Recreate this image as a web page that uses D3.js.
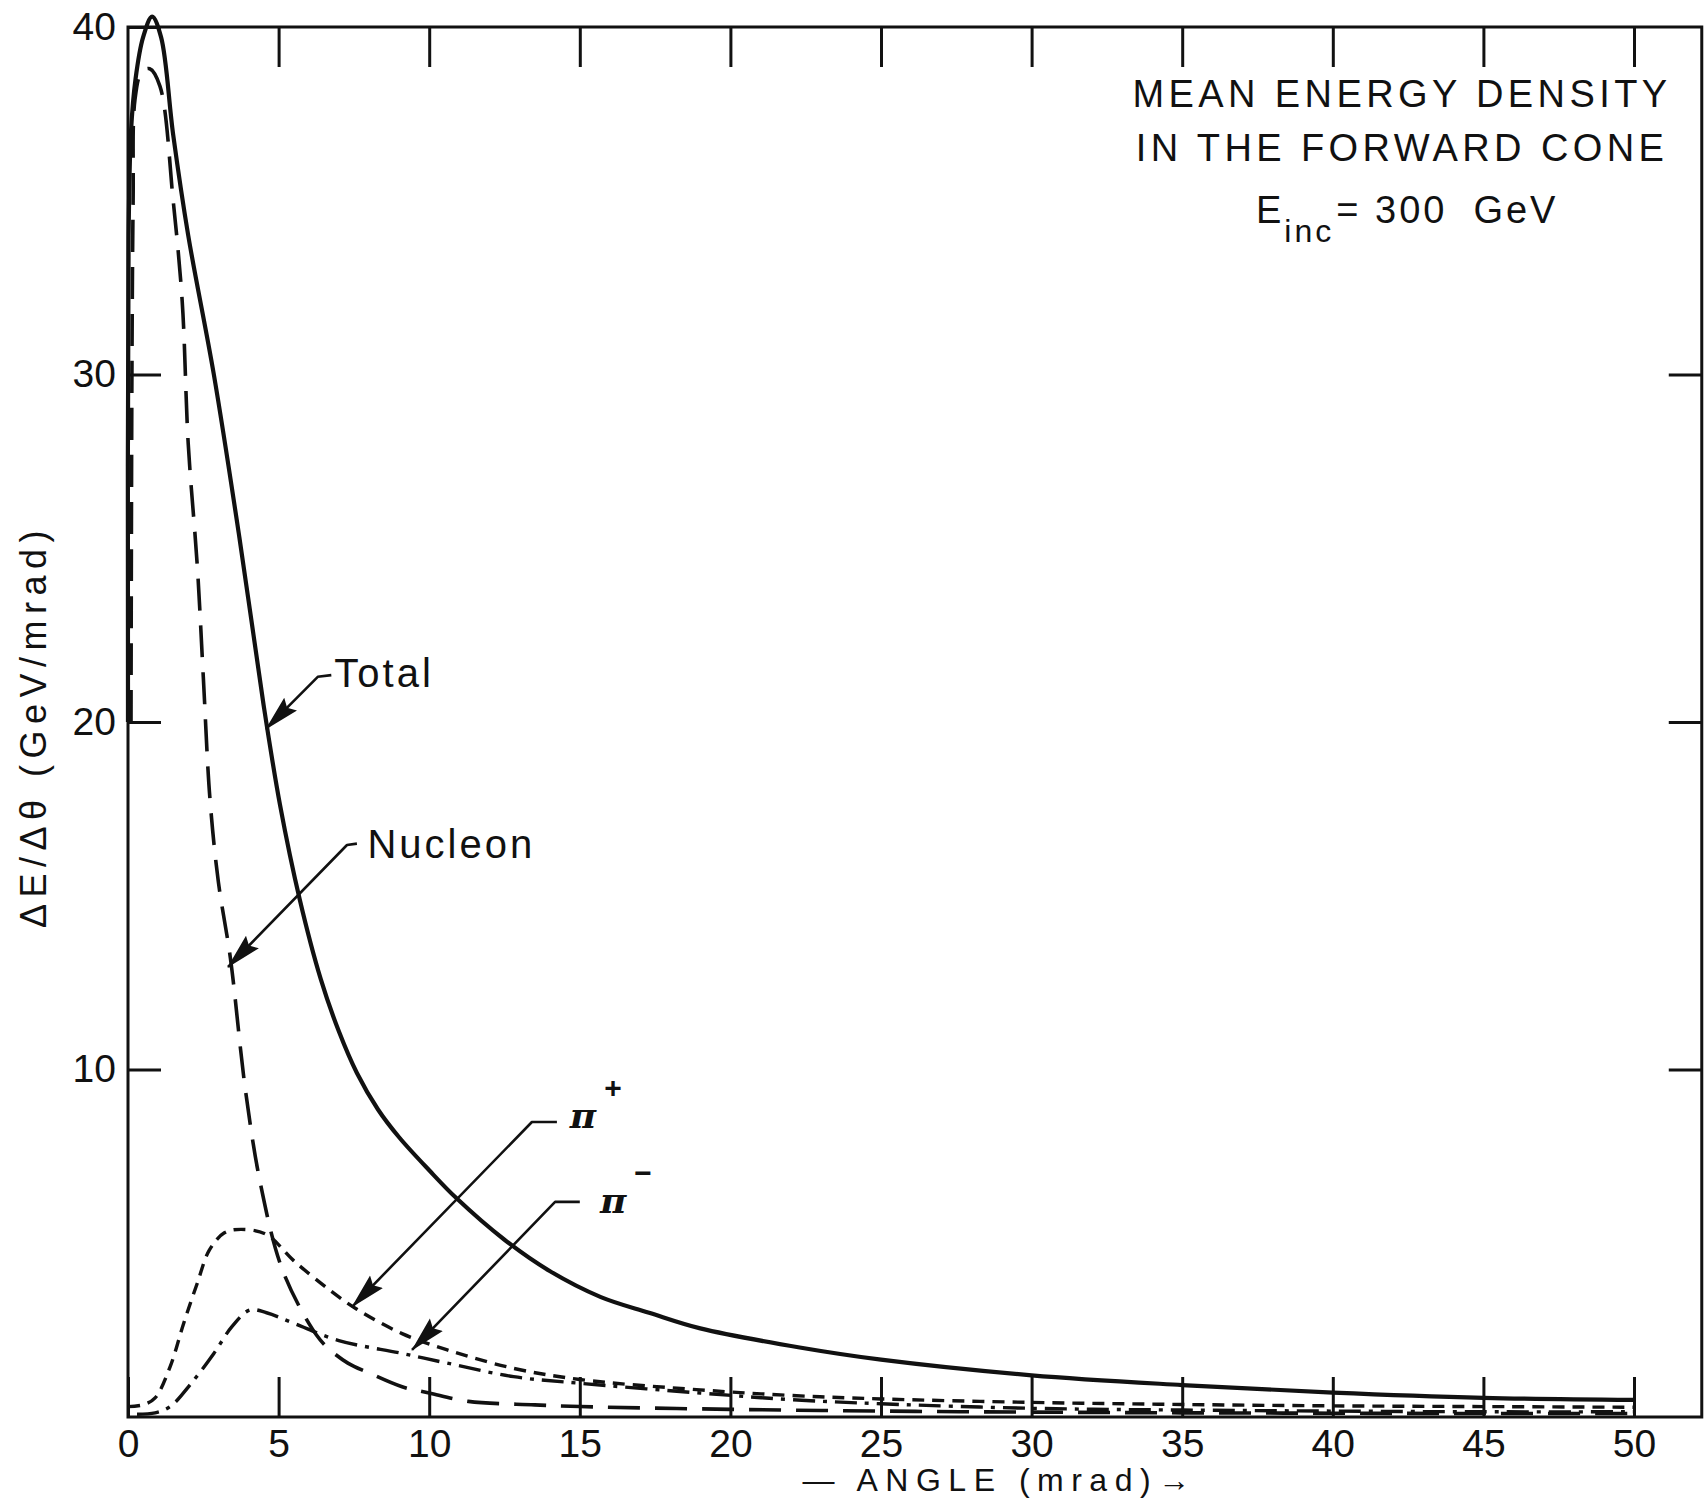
<!DOCTYPE html>
<html>
<head>
<meta charset="utf-8">
<script src="https://cdn.jsdelivr.net/npm/d3@7"></script>
<style>
  html, body { margin: 0; padding: 0; background: #fff; }
  svg { display: block; }
  text { font-family: 'Liberation Sans', Arial, sans-serif; fill: #111; }
</style>
</head>
<body>
<div id="chart"></div>
<script>
// values (angle in mrad, dE/dtheta in GeV/mrad)
const totalAngle = [0, 0.02, 0.1, 0.25, 0.5, 0.8, 1.1, 1.5, 2.0, 2.85, 3.7, 4.5, 5.05, 5.7, 6.4, 7.0, 7.6, 8.3, 9.0, 10.0, 10.9, 12.5, 14.0, 15.7, 17.3, 19.0, 22.3, 25, 30, 35, 40, 45, 50];
const totalValue = [20, 34, 37, 38.5, 39.7, 40.3, 39.7, 36.9, 34.0, 30.0, 25.3, 20.5, 17.6, 14.9, 12.6, 11.1, 9.9, 8.85, 8.05, 7.1, 6.3, 5.1, 4.2, 3.45, 3.0, 2.55, 2.0, 1.65, 1.2, 0.92, 0.7, 0.55, 0.49];

const nucleonAngle = [0.1, 0.13, 0.17, 0.23, 0.45, 0.72, 1.06, 1.5, 1.8, 2.0, 2.3, 2.5, 2.72, 3.0, 3.4, 3.9, 4.4, 5.1, 6.0, 6.5, 7.3, 8.0, 9.1, 10, 11.3, 13.5, 15, 20, 25, 30, 35, 40, 45, 50];
const nucleonValue = [20, 30, 35, 37.9, 38.7, 38.8, 38.3, 35, 32.1, 28, 24.5, 21.3, 17.8, 15.4, 13.2, 9.4, 6.7, 4.3, 2.7, 2.1, 1.55, 1.27, 0.87, 0.69, 0.45, 0.35, 0.3, 0.22, 0.17, 0.14, 0.12, 0.11, 0.1, 0.1];

const piPlusAngle = [0, 0.5, 0.9, 1.4, 1.85, 2.3, 2.7, 3.2, 3.75, 4.6, 5.5, 6.7, 7.6, 9.1, 10.6, 12.8, 15, 19, 22, 25, 30, 35, 40, 45, 50];
const piPlusValue = [0.3, 0.35, 0.55, 1.45, 2.7, 3.85, 4.8, 5.3, 5.4, 5.25, 4.5, 3.65, 3.1, 2.4, 1.93, 1.4, 1.08, 0.78, 0.62, 0.52, 0.42, 0.36, 0.32, 0.3, 0.28];

const piMinusAngle = [0.3, 0.9, 1.4, 2.1, 2.85, 3.45, 4.05, 4.6, 5.5, 7.0, 9.1, 10.6, 12.8, 15, 19, 22, 25, 30, 35, 40, 45, 50];
const piMinusValue = [0.08, 0.12, 0.3, 0.97, 1.83, 2.6, 3.08, 3.0, 2.7, 2.2, 1.83, 1.55, 1.16, 0.97, 0.69, 0.5, 0.38, 0.25, 0.2, 0.17, 0.15, 0.15];

const xTicks = [0, 5, 10, 15, 20, 25, 30, 35, 40, 45, 50];
const yTicks = [10, 20, 30, 40];

const titleLines = ['MEAN ENERGY DENSITY', 'IN THE FORWARD CONE'];

// curve labels: arrow tip on the curve, elbow of the leader, label start (data units)
const labels = [
  { text: 'Total', tip: [4.58, 19.8], elbow: [6.3, 21.3], end: [6.75, 21.35], at: [6.85, 21.0], sup: null },
  { text: 'Nucleon', tip: [3.32, 12.95], elbow: [7.27, 16.46], end: [7.6, 16.5], at: [7.95, 16.1], sup: null },
  { text: 'π', tip: [7.44, 3.17], elbow: [13.41, 8.49], end: [14.24, 8.49], at: [14.67, 8.32], sup: '+' },
  { text: 'π', tip: [9.43, 1.93], elbow: [14.18, 6.19], end: [15.0, 6.19], at: [15.67, 5.87], sup: '−' }
];

const W = 1705, H = 1499;
const x = d3.scaleLinear().domain([0, 50]).range([128, 1634]);
const y = d3.scaleLinear().domain([0, 40]).range([1417, 27]);
const frameRight = x(52.25);

const svg = d3.select('#chart').append('svg')
  .attr('width', W).attr('height', H)
  .attr('viewBox', `0 0 ${W} ${H}`);

svg.append('rect').attr('width', W).attr('height', H).attr('fill', '#fff');

const defs = svg.append('defs');
defs.append('marker')
  .attr('id', 'head')
  .attr('markerUnits', 'userSpaceOnUse')
  .attr('viewBox', '0 0 36 20')
  .attr('refX', 35).attr('refY', 10)
  .attr('markerWidth', 36).attr('markerHeight', 20)
  .attr('orient', 'auto')
  .append('path')
  .attr('d', 'M0,1 L36,10 L0,19 L5,10 Z')
  .attr('fill', '#111');

// frame
svg.append('rect')
  .attr('x', x(0)).attr('y', y(40))
  .attr('width', frameRight - x(0)).attr('height', y(0) - y(40))
  .attr('fill', 'none').attr('stroke', '#111').attr('stroke-width', 3);

// axes (ticks point inward, as on the original)
const styleAxis = (g) => {
  g.select('.domain').remove();
  g.selectAll('.tick line').attr('stroke', '#111').attr('stroke-width', 3);
  g.selectAll('.tick text')
    .attr('fill', '#111')
    .style('font-family', "'Liberation Sans', Arial, sans-serif")
    .style('font-size', '39px');
};

svg.append('g')
  .attr('transform', `translate(0,${y(0)})`)
  .call(d3.axisBottom(x).tickValues(xTicks).tickSize(-40).tickSizeOuter(0).tickPadding(12).tickFormat(d3.format('d')))
  .call(styleAxis);

svg.append('g')
  .attr('transform', `translate(0,${y(40)})`)
  .call(d3.axisTop(x).tickValues(xTicks.slice(1)).tickSize(-40).tickSizeOuter(0).tickFormat(''))
  .call(styleAxis);

svg.append('g')
  .attr('transform', `translate(${x(0)},0)`)
  .call(d3.axisLeft(y).tickValues(yTicks).tickSize(-33).tickSizeOuter(0).tickPadding(12).tickFormat(d3.format('d')))
  .call(styleAxis);

svg.append('g')
  .attr('transform', `translate(${frameRight},0)`)
  .call(d3.axisLeft(y).tickValues(yTicks.slice(0, 3)).tickSize(33).tickSizeOuter(0).tickFormat(''))
  .call(styleAxis);

// curves
const line = d3.line()
  .x((d) => x(d[0]))
  .y((d) => y(d[1]))
  .curve(d3.curveCatmullRom.alpha(0.5));

const series = [
  { angle: totalAngle, value: totalValue, width: 4.2, dash: null },
  { angle: nucleonAngle, value: nucleonValue, width: 3.6, dash: '32,15' },
  { angle: piPlusAngle, value: piPlusValue, width: 3.4, dash: '12,8' },
  { angle: piMinusAngle, value: piMinusValue, width: 3.4, dash: '22,8,4,8' }
];

svg.append('g')
  .selectAll('path')
  .data(series)
  .join('path')
  .attr('d', (s) => line(d3.zip(s.angle, s.value)))
  .attr('fill', 'none')
  .attr('stroke', '#111')
  .attr('stroke-width', (s) => s.width)
  .attr('stroke-dasharray', (s) => s.dash)
  .attr('stroke-linecap', 'butt');

// curve labels with arrows
const lab = svg.append('g');
labels.forEach((l) => {
  lab.append('path')
    .attr('d', `M${x(l.end[0])},${y(l.end[1])} L${x(l.elbow[0])},${y(l.elbow[1])} L${x(l.tip[0])},${y(l.tip[1])}`)
    .attr('fill', 'none')
    .attr('stroke', '#111')
    .attr('stroke-width', 2.6)
    .attr('stroke-linejoin', 'round')
    .attr('marker-end', 'url(#head)');

  const t = lab.append('text')
    .attr('x', x(l.at[0]))
    .attr('y', y(l.at[1]));
  if (l.sup) {
    t.append('tspan')
      .text(l.text)
      .style('font-family', "'DejaVu Serif', serif")
      .style('font-style', 'italic')
      .style('font-weight', 'bold')
      .style('font-size', '36px');
    t.append('tspan')
      .attr('dx', 8).attr('dy', -30)
      .text(l.sup)
      .style('font-weight', 'bold')
      .style('font-size', '30px');
  } else {
    t.text(l.text)
      .style('font-size', '40px')
      .style('letter-spacing', '3px');
  }
});

// title block
const title = svg.append('g').attr('transform', 'translate(1402,0)');
titleLines.forEach((s, i) => {
  title.append('text')
    .attr('x', 0).attr('y', 107 + i * 54)
    .attr('text-anchor', 'middle')
    .style('font-size', '38px')
    .style('letter-spacing', '4.4px')
    .text(s);
});
const e = title.append('text')
  .attr('x', -146).attr('y', 223)
  .style('font-size', '38px')
  .style('letter-spacing', '3px');
e.append('tspan').text('E');
e.append('tspan').attr('dy', 19).style('font-size', '32px').text('inc');
e.append('tspan').attr('dy', -19).attr('dx', 2).text('= 300');
e.append('tspan').attr('dx', 26).text('GeV');

// axis titles
svg.append('text')
  .attr('transform', `translate(46,${(y(0) + y(40)) / 2 + 4}) rotate(-90)`)
  .attr('text-anchor', 'middle')
  .style('font-size', '36px')
  .style('letter-spacing', '6.5px')
  .text('ΔE/Δθ  (GeV/mrad)');

svg.append('text')
  .attr('x', 1000).attr('y', 1491)
  .attr('text-anchor', 'middle')
  .style('font-size', '32px')
  .style('letter-spacing', '7.5px')
  .text('— ANGLE (mrad)→');
</script>
</body>
</html>
